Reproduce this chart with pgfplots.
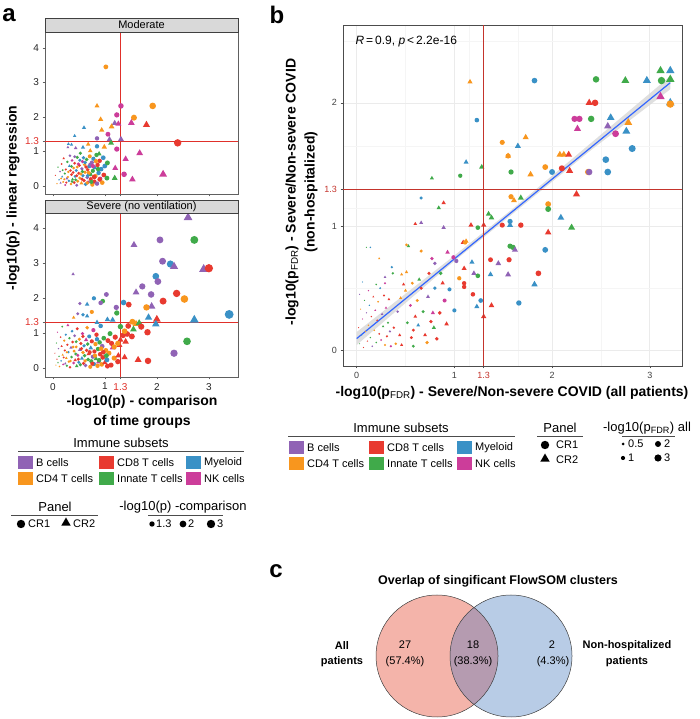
\documentclass[border=0pt]{standalone}
\usepackage{pgfplots}
\pgfplotsset{compat=1.18}
\usepackage{pgfplotstable}
\usepackage{fontspec}
\setmainfont{Liberation Sans}

\definecolor{cB}{HTML}{9063B5}
\definecolor{cO}{HTML}{F8961E}
\definecolor{cR}{HTML}{E83A30}
\definecolor{cG}{HTML}{40AA4A}
\definecolor{cL}{HTML}{3A91C6}
\definecolor{cM}{HTML}{CC3D9A}
\definecolor{redA}{HTML}{E0302A}
\definecolor{lineB}{HTML}{C4342C}
\definecolor{regblue}{HTML}{3366FF}
\definecolor{vennL}{HTML}{F4B4AA}
\definecolor{vennR}{HTML}{B8CCE6}
\definecolor{vennM}{HTML}{B59BB0}
\definecolor{stripg}{HTML}{D9D9D9}
\definecolor{gridmaj}{HTML}{EBEBEB}
\definecolor{gridmin}{HTML}{F5F5F5}

\pgfdeclareplotmark{dot}{\pgfpathcircle{\pgfpointorigin}{\pgfplotmarksize}\pgfusepathqfill}
\pgfdeclareplotmark{tri}{%
  \pgfpathmoveto{\pgfpointpolar{90}{1.3\pgfplotmarksize}}%
  \pgfpathlineto{\pgfpointpolar{210}{1.3\pgfplotmarksize}}%
  \pgfpathlineto{\pgfpointpolar{330}{1.3\pgfplotmarksize}}%
  \pgfpathclose\pgfusepathqfill}

\pgfplotsset{
  cls/.style={scatter, only marks, point meta=explicit symbolic,
    scatter/classes={
      Bc={mark=dot,cB}, Bt={mark=tri,cB},
      Oc={mark=dot,cO}, Ot={mark=tri,cO},
      Rc={mark=dot,cR}, Rt={mark=tri,cR},
      Gc={mark=dot,cG}, Gt={mark=tri,cG},
      Lc={mark=dot,cL}, Lt={mark=tri,cL},
      Mc={mark=dot,cM}, Mt={mark=tri,cM}},
    visualization depends on={max(#1*sqrt(abs(\thisrow{x})),0.6) \as \ms},
    scatter/@pre marker code/.append style={/tikz/mark size=\ms, /tikz/fill opacity=0.72}},
  aax/.style={scale only axis, anchor=south west,
    axis line style={draw=gray!75!black, line width=0.6pt},
    tick align=outside, major tick length=2.5pt,
    xtick pos=bottom, ytick pos=left,
    tick style={draw=gray!75!black, line width=0.5pt},
    xtick={0,1,1.3,2,3}, ytick={0,1,1.3,2,3,4},
    yticklabels={0,1,\textcolor{redA}{1.3},2,3,4},
    tick label style={font=\fontsize{10}{12}\selectfont, text=black!85},
    /pgf/number format/assume math mode=true,
    xmin=-0.15, xmax=3.56},
}

% Panel a, Moderate
\pgfplotstableread{
x y c
0.05 0.31 Rc
0.08 0.07 Oc
0.10 0.55 Gc
0.12 0.18 Lc
0.14 0.42 Bc
0.15 0.09 Bt
0.17 0.64 Rc
0.18 0.27 Lt
0.20 0.12 Oc
0.21 0.80 Rt
0.23 0.36 Gc
0.24 0.03 Mc
0.25 0.48 Rc
0.27 0.22 Bt
0.28 0.70 Gc
0.30 0.41 Oc
0.31 0.15 Lc
0.32 0.58 Lt
0.33 0.88 Bc
0.35 0.06 Oc
0.36 0.33 Rc
0.37 0.74 Mc
0.38 0.19 Gt
0.40 0.52 Oc
0.41 0.10 Rc
0.42 0.66 Rc
0.43 0.28 Lc
0.45 0.45 Lc
0.46 0.02 Bc
0.47 0.83 Gc
0.48 0.14 Oc
0.50 0.37 Rc
0.51 0.60 Rc
0.52 0.23 Oc
0.53 0.95 Gc
0.55 0.08 Ot
0.56 0.50 Bc
0.57 0.71 Mc
0.58 0.30 Lc
0.60 0.16 Rc
0.61 0.62 Oc
0.62 0.40 Oc
0.63 0.05 Lc
0.65 0.77 Gc
0.66 0.25 Bc
0.67 0.47 Rc
0.68 0.11 Mc
0.70 0.57 Lc
0.71 0.86 Oc
0.72 0.34 Gc
0.73 0.20 Rc
0.75 0.68 Bc
0.76 0.04 Oc
0.77 0.44 Gc
0.78 0.79 Lc
0.80 0.13 Rc
0.81 0.53 Lt
0.82 0.29 Oc
0.84 0.90 Gc
0.85 0.07 Bc
0.86 0.61 Rc
0.88 0.38 Lc
0.90 0.73 Rc
0.91 0.21 Mc
0.93 0.49 Lc
0.95 0.10 Oc
0.97 0.82 Lc
0.98 0.32 Rc
1.00 0.58 Lc
0.22 0.20 Oc
0.34 0.45 Rc
0.44 0.18 Gc
0.54 0.35 Oc
0.64 0.55 Rc
0.74 0.12 Gc
0.59 0.82 Lc
0.49 0.64 Mc
0.39 0.39 Rc
0.29 0.26 Oc
0.19 0.46 Gc
0.69 0.38 Oc
0.79 0.27 Rc
0.87 0.49 Gc
0.66 0.09 Oc
0.56 0.20 Rc
0.46 0.30 Rc
0.36 0.57 Gc
0.26 0.10 Rc
0.16 0.22 Oc
0.62 0.68 Lc
0.72 0.62 Bc
0.83 0.72 Oc
0.52 0.75 Lc
0.42 0.85 Bc
0.57 0.42 Gc
0.67 0.30 Lc
0.77 0.58 Mc
0.47 0.55 Oc
0.37 0.13 Gc
0.44 1.10 Bt
0.58 1.12 Lt
0.72 1.02 Ot
0.30 1.22 Lt
0.29 1.12 Bt
0.36 1.20 Lt
1.02 3.45 Oc
0.85 2.32 Ot
1.31 2.32 Mc
1.92 2.32 Oc
1.56 1.98 Oc
1.23 2.06 Mc
1.19 1.82 Bt
1.26 1.80 Mt
0.92 1.93 Ot
0.60 1.69 Lt
0.94 1.62 Ot
1.13 1.72 Ot
1.51 1.83 Mt
1.80 1.77 Rt
2.40 1.25 Rc
1.06 1.50 Mc
0.85 1.38 Bc
0.42 1.45 Lt
1.09 1.35 Bt
1.31 1.35 Bt
0.68 1.21 Ot
0.85 1.15 Lc
1.12 1.25 Gt
0.99 1.13 Ot
1.23 1.07 Mc
0.89 0.93 Gt
1.67 0.95 Mt
1.40 0.78 Mt
1.05 0.67 Gc
1.20 0.52 Mt
2.12 0.34 Mt
1.37 0.34 Mc
1.53 0.19 Mt
1.04 0.23 Gc
1.19 0.23 Gt
0.90 0.19 Rc
0.80 0.26 Rc
}\tabA

% Panel a, Severe (no ventilation)
\pgfplotstableread{
x y c
0.04 0.42 Rc
0.06 0.08 Oc
0.07 0.71 Gc
0.08 0.25 Rt
0.09 1.02 Mc
0.10 0.15 Gt
0.11 0.55 Bc
0.12 0.33 Gc
0.13 0.04 Oc
0.15 0.88 Rc
0.16 0.20 Lc
0.17 0.62 Rt
0.18 1.18 Gc
0.19 0.37 Ot
0.20 0.10 Mc
0.22 0.78 Oc
0.23 0.50 Rc
0.24 0.12 Bt
0.25 0.95 Lc
0.26 0.28 Ot
0.27 0.06 Gc
0.28 0.66 Rc
0.29 1.22 Mt
0.30 0.45 Lc
0.31 0.18 Oc
0.32 0.85 Gc
0.33 0.02 Rc
0.35 0.58 Bt
0.36 0.31 Gc
0.37 1.05 Lc
0.38 0.74 Rc
0.40 0.14 Mc
0.41 0.48 Oc
0.42 0.92 Bc
0.43 0.22 Rt
0.45 0.60 Oc
0.46 0.05 Gt
0.47 1.12 Rc
0.48 0.36 Mc
0.50 0.16 Lc
0.51 0.82 Oc
0.52 0.52 Bt
0.53 0.09 Gc
0.54 0.70 Rc
0.56 0.27 Lt
0.57 0.98 Mc
0.58 0.44 Oc
0.59 0.13 Rc
0.60 0.63 Lc
0.61 0.35 Gc
0.63 0.07 Bc
0.64 0.80 Mt
0.65 0.50 Rc
0.66 1.15 Oc
0.68 0.24 Gc
0.69 0.40 Rt
0.70 0.90 Lc
0.72 0.03 Oc
0.73 0.57 Lt
0.74 0.19 Gc
0.75 0.76 Rc
0.77 0.32 Bc
0.78 1.08 Mc
0.79 0.11 Lc
0.80 0.47 Rc
0.82 0.68 Oc
0.83 0.26 Gt
0.84 0.95 Rc
0.86 0.06 Oc
0.87 0.54 Gc
0.88 0.17 Mt
0.90 0.73 Gc
0.91 0.39 Rc
0.92 1.20 Lc
0.94 0.10 Oc
0.95 0.62 Bc
0.96 0.30 Rc
0.98 0.85 Gc
1.00 0.15 Rt
1.02 0.50 Oc
1.04 0.23 Lc
1.06 0.78 Rc
1.08 0.42 Oc
1.10 0.98 Gc
1.12 0.08 Rc
1.15 0.58 Mt
1.18 0.28 Oc
1.20 0.88 Rc
1.25 0.18 Rc
1.28 0.65 Rt
0.21 0.30 Rc
0.34 0.20 Oc
0.44 0.40 Gc
0.55 0.55 Rc
0.62 0.20 Oc
0.71 0.45 Rc
0.81 0.35 Oc
0.89 0.22 Gc
0.97 0.45 Rc
0.49 0.25 Rc
0.39 0.60 Oc
0.67 0.68 Gc
0.76 0.12 Rc
0.85 0.82 Lc
0.93 0.55 Oc
1.03 0.35 Gc
1.13 0.70 Rc
0.58 0.90 Rc
0.45 0.75 Gc
0.27 0.45 Oc
2.60 4.30 Bt
2.72 3.66 Gc
2.06 3.66 Bc
1.56 3.52 Bt
2.11 3.05 Bc
2.26 2.97 Lc
2.33 2.90 Bt
2.90 2.82 Bt
3.00 2.85 Rc
1.98 2.62 Lc
2.02 2.47 Bc
0.39 2.68 Bt
1.72 2.33 Bc
1.60 2.16 Bt
1.89 2.10 Bc
2.38 2.13 Rc
2.53 1.97 Oc
2.12 1.91 Rc
1.36 1.87 Lc
1.46 1.81 Rc
3.39 1.53 Lc
2.72 1.37 Lt
1.90 1.76 Bt
1.80 1.73 Oc
1.03 2.10 Bc
0.96 1.91 Gc
0.79 1.99 Lc
0.92 1.86 Bc
0.52 1.84 Bc
0.66 1.82 Lt
1.22 1.73 Bc
1.23 1.57 Gc
1.05 1.38 Lt
1.15 1.37 Lt
1.84 1.44 Lt
2.00 1.39 Rt
1.98 1.25 Lt
1.82 1.02 Rc
2.58 0.76 Gc
2.33 0.42 Bc
1.64 0.23 Rt
1.83 0.20 Rc
1.38 0.30 Rt
1.26 0.35 Rt
1.05 0.05 Rc
1.35 0.93 Rc
1.43 0.97 Rc
1.52 0.90 Rc
1.30 0.80 Rt
1.40 0.75 Rt
1.25 0.70 Oc
1.18 0.60 Oc
1.60 1.26 Ot
1.66 1.28 Gt
1.53 1.32 Oc
1.45 1.20 Rc
1.70 1.18 Rc
1.30 1.18 Gc
1.38 1.05 Oc
1.55 1.10 Gt
0.40 1.44 Ot
0.66 1.48 Lt
0.58 1.52 Lc
0.48 1.55 Bc
0.75 1.60 Oc
0.85 1.30 Lt
}\tabB

% Panel b
\pgfplotstableread{
x y c
0.02 0.18 Rc
0.03 0.05 Gc
0.04 0.33 Oc
0.05 0.12 Lc
0.03 0.45 Bc
0.06 0.25 Mc
0.07 0.02 Rc
0.08 0.40 Gt
0.09 0.15 Oc
0.10 0.30 Bc
0.11 0.07 Rt
0.12 0.48 Mc
0.12 0.20 Oc
0.13 0.36 Lt
0.14 0.10 Gc
0.15 0.27 Rc
0.16 0.03 Bc
0.17 0.43 Rt
0.18 0.16 Oc
0.19 0.32 Mt
0.20 0.06 Gc
0.21 0.24 Rc
0.22 0.39 Oc
0.23 0.13 Rc
0.24 0.50 Lc
0.25 0.08 Mc
0.26 0.29 Bt
0.27 0.19 Gt
0.28 0.44 Rc
0.29 0.04 Oc
0.30 0.34 Mt
0.31 0.11 Rc
0.32 0.22 Gc
0.33 0.41 Rt
0.34 0.15 Bc
0.35 0.03 Mc
0.10 0.83 Gc
0.14 0.83 Lc
0.23 0.74 Ot
0.36 0.67 Lc
0.37 0.62 Gc
0.29 0.59 Bt
0.29 0.54 Mc
0.20 0.53 Gc
0.06 0.55 Lc
0.38 0.18 Rc
0.40 0.05 Oc
0.42 0.31 Bc
0.44 0.12 Rt
0.45 0.42 Ot
0.46 0.04 Rt
0.46 0.61 Ot
0.48 0.53 Rt
0.50 0.48 Ot
0.51 0.63 Ot
0.51 0.85 Oc
0.52 0.22 Gc
0.53 0.84 Gt
0.55 0.36 Mc
0.56 0.10 Rc
0.57 0.54 Oc
0.58 0.16 Rc
0.58 0.03 Gc
0.60 0.27 Rt
0.60 1.02 Rt
0.62 0.40 Oc
0.63 0.20 Lt
0.64 0.57 Gt
0.66 0.50 Rc
0.66 0.80 Oc
0.66 1.03 Bt
0.66 1.23 Lc
0.68 0.31 Gc
0.70 0.12 Rt
0.72 0.06 Oc
0.73 0.43 Bt
0.74 0.62 Rc
0.76 0.23 Rc
0.77 0.74 Mc
0.77 1.39 Gt
0.78 0.30 Mt
0.79 0.18 Gt
0.80 0.70 Bc
0.80 0.50 Lc
0.82 0.09 Rc
0.84 1.15 Gt
0.85 0.30 Rc
0.86 0.62 Gc
0.88 0.54 Rt
0.89 1.19 Rt
0.89 0.99 Bt
0.90 0.40 Mc
0.92 0.21 Rt
0.93 0.79 Mt
0.95 0.49 Lc
0.99 0.75 Mc
1.02 0.72 Bc
1.05 0.58 Oc
1.00 0.32 Lc
1.16 2.17 Ot
1.82 2.18 Lc
2.45 2.19 Gc
2.75 2.18 Gt
2.97 2.18 Lt
3.11 2.26 Gt
3.21 2.26 Lt
3.12 2.18 Gc
3.21 2.19 Gt
3.11 2.05 Mt
3.21 2.00 Lt
3.21 1.99 Oc
2.38 2.00 Rt
2.44 2.00 Rc
1.23 1.86 Lc
2.23 1.87 Mc
2.28 1.87 Mc
2.26 1.79 Mt
2.40 1.87 Gc
2.60 1.88 Lt
2.57 1.81 Bt
2.78 1.84 Ot
2.65 1.75 Mc
2.76 1.77 Lt
2.82 1.63 Lc
1.49 1.68 Oc
1.73 1.72 Ot
1.65 1.65 Lt
1.55 1.57 Ot
1.55 1.57 Oc
2.08 1.58 Ot
2.12 1.58 Ot
2.17 1.58 Rt
2.55 1.54 Lc
1.93 1.48 Oc
2.10 1.47 Rc
2.00 1.44 Lc
2.18 1.45 Rt
2.37 1.44 Oc
2.38 1.44 Bc
2.57 1.44 Lc
1.58 1.44 Gc
1.78 1.42 Ot
1.12 1.52 Lt
1.28 1.48 Gt
1.06 1.41 Gc
2.25 1.26 Rt
1.58 1.24 Oc
1.61 1.21 Ot
1.68 1.23 Gt
1.96 1.18 Oc
1.96 1.14 Gc
1.35 1.10 Gt
2.09 1.07 Lt
1.38 1.07 Gt
1.17 1.01 Rt
1.30 1.01 Rt
1.24 0.99 Gc
1.49 1.01 Rc
1.68 1.01 Rc
1.57 1.04 Lc
1.57 1.01 Lt
2.20 0.99 Gt
1.96 0.95 Rt
1.09 0.87 Rt
1.12 0.88 Ot
1.11 0.87 Oc
1.57 0.84 Gc
1.60 0.83 Gc
1.62 0.81 Bt
1.93 0.81 Lc
1.37 0.73 Rc
1.45 0.70 Bt
1.56 0.73 Rc
1.18 0.71 Lt
1.10 0.66 Rt
1.20 0.62 Bt
1.24 0.60 Gc
1.37 0.61 Lt
1.55 0.61 Bt
1.86 0.62 Rc
1.82 0.53 Lt
1.10 0.54 Rc
1.10 0.51 Rc
1.19 0.45 Rc
1.27 0.40 Lc
1.66 0.38 Lc
1.23 0.35 Lt
1.38 0.36 Rt
1.30 0.27 Rt
}\tabC

\begin{document}
\begin{tikzpicture}[x=1pt,y=1pt]
\useasboundingbox (0pt,0pt) rectangle (699pt,719pt);

% ---------- Panel a, top ----------
\begin{axis}[aax, at={(45pt,525pt)}, width=193pt, height=162pt,
  ymin=-0.23, ymax=4.46, xticklabels={}]
\addplot[redA, line width=0.7pt] coordinates {(1.3,-0.23) (1.3,4.46)};
\addplot[redA, line width=0.7pt] coordinates {(-0.15,1.3) (3.56,1.3)};
\addplot[cls=2.4] table[x=x, y=y, meta=c] {\tabA};
\end{axis}
\filldraw[fill=stripg, draw=gray!50!black, line width=0.5pt] (45pt,687pt) rectangle (238pt,701pt);
\node[font=\fontsize{11}{13}\selectfont] at (141.5pt,694pt) {Moderate};

% ---------- Panel a, bottom ----------
\begin{axis}[aax, at={(45pt,342pt)}, width=193pt, height=164pt,
  ymin=-0.26, ymax=4.43, xticklabels={0,1,\textcolor{redA}{1.3},2,3}]
\addplot[redA, line width=0.7pt] coordinates {(1.3,-0.26) (1.3,4.43)};
\addplot[redA, line width=0.7pt] coordinates {(-0.15,1.3) (3.56,1.3)};
\addplot[cls=2.4] table[x=x, y=y, meta=c] {\tabB};
\end{axis}
\filldraw[fill=stripg, draw=gray!50!black, line width=0.5pt] (45pt,506pt) rectangle (238pt,519pt);
\node[font=\fontsize{11}{13}\selectfont] at (141.5pt,512.5pt) {Severe (no ventilation)};

\node[rotate=90, font=\fontsize{14}{16}\selectfont\bfseries] at (13pt,521pt) {-log10(p) - linear regression};
\node[font=\fontsize{14}{16}\selectfont\bfseries] at (142pt,317pt) {-log10(p) - comparison};
\node[font=\fontsize{14}{16}\selectfont\bfseries] at (142pt,297pt) {of time groups};

% ---------- Panel b ----------
\begin{axis}[scale only axis, anchor=south west, at={(343pt,353pt)}, width=339pt, height=341pt,
  xmin=-0.14, xmax=3.33, ymin=-0.13, ymax=2.63,
  axis line style={draw=gray!60!black, line width=0.8pt},
  tick align=outside, major tick length=2.5pt, minor tick length=0pt,
  xtick pos=bottom, ytick pos=left,
  tick style={draw=gray!60!black, line width=0.5pt},
  xtick={0,1,2,3}, ytick={0,1,2},
  extra x ticks={1.3}, extra y ticks={1.3},
  extra tick style={grid=none, tick label style={text=lineB}},
  minor xtick={0.5,1.15,1.65,2.5}, minor ytick={0.5,1.15,1.65,2.5},
  grid=both, major grid style={draw=gridmaj, line width=0.6pt}, minor grid style={draw=gridmin, line width=0.4pt},
  tick label style={font=\fontsize{9}{11}\selectfont, text=black!75},
  /pgf/number format/assume math mode=true]
\addplot[fill=gray!30, draw=none, fill opacity=0.85] coordinates {(0,0.04) (1.0,0.72) (1.6,1.104) (2.4,1.618) (3.21,2.11) (3.21,2.216) (2.4,1.676) (1.6,1.144) (1.0,0.764) (0,0.145)} -- cycle;
\addplot[cls=2.1] table[x=x, y=y, meta=c] {\tabC};
\addplot[draw=regblue, line width=1.2pt] coordinates {(0,0.092) (3.21,2.163)};
\end{axis}
% overlay axis with the same frame, holding the 1.3 threshold lines
\begin{axis}[scale only axis, anchor=south west, at={(343pt,353pt)}, width=339pt, height=341pt,
  xmin=-0.14, xmax=3.33, ymin=-0.13, ymax=2.63, hide axis]
\addplot[draw={rgb,255:red,196;green,52;blue,44}, line width=1.0pt] coordinates {(1.3,-0.13) (1.3,2.63)};
\addplot[draw={rgb,255:red,196;green,52;blue,44}, line width=1.0pt] coordinates {(-0.14,1.3) (3.33,1.3)};
\end{axis}
\node[anchor=west, font=\fontsize{12}{14}\selectfont] at (352pt,677pt) {\textit{R}\,=\,0.9, \textit{p}\,<\,2.2e-16};
\node[rotate=90, align=center, font=\fontsize{14}{19}\selectfont\bfseries] at (301.5pt,527pt) {-log10(p\textsubscript{\mdseries FDR}) - Severe/Non-severe COVID\\(non-hospitalized)};
\node[font=\fontsize{14}{16}\selectfont\bfseries] at (512pt,326pt) {-log10(p\textsubscript{\mdseries FDR}) - Severe/Non-severe COVID (all patients)};

% ---------- panel letters ----------
\node[font=\fontsize{24}{26}\selectfont\bfseries] at (9pt,704pt) {a};
\node[font=\fontsize{24}{26}\selectfont\bfseries] at (277pt,704pt) {b};
\node[font=\fontsize{24}{26}\selectfont\bfseries] at (276pt,148pt) {c};

% ---------- legend panel a ----------
\begin{scope}[every node/.style={font=\fontsize{11}{13}\selectfont, inner sep=0pt}]
\node[font=\fontsize{13}{15}\selectfont] at (121pt,276pt) {Immune subsets};
\draw[gray!60!black, line width=0.7pt] (18pt,268pt) -- (244pt,268pt);
\fill[cB] (18pt,250pt) rectangle (33pt,263pt); \node[anchor=west] at (36pt,256.5pt) {B cells};
\fill[cO] (18pt,234pt) rectangle (33pt,247pt); \node[anchor=west] at (36pt,240.5pt) {CD4 T cells};
\fill[cR] (99pt,250pt) rectangle (114pt,263pt); \node[anchor=west] at (117pt,256.5pt) {CD8 T cells};
\fill[cG] (99pt,234pt) rectangle (114pt,247pt); \node[anchor=west] at (117pt,240.5pt) {Innate T cells};
\fill[cL] (186pt,250pt) rectangle (201pt,263pt); \node[anchor=west] at (204pt,256.5pt) {Myeloid};
\fill[cM] (186pt,234pt) rectangle (201pt,247pt); \node[anchor=west] at (204pt,240.5pt) {NK cells};
\node[font=\fontsize{13}{15}\selectfont] at (55pt,212pt) {Panel};
\draw[gray!60!black, line width=0.7pt] (11pt,204pt) -- (98pt,204pt);
\fill (21pt,195pt) circle (4.2pt); \node[anchor=west] at (28pt,195pt) {CR1};
\fill[shift={(66pt,196pt)}] (90:5.5pt) -- (210:5.5pt) -- (330:5.5pt) -- cycle; \node[anchor=west] at (73pt,195pt) {CR2};
\node[font=\fontsize{13}{15}\selectfont] at (183pt,212pt) {-log10(p) -comparison};
\draw[gray!60!black, line width=0.7pt] (148pt,204pt) -- (223pt,204pt);
\fill (152pt,195pt) circle (2.7pt); \node[anchor=west] at (156pt,195pt) {1.3};
\fill (183pt,195pt) circle (3.4pt); \node[anchor=west] at (188pt,195pt) {2};
\fill (211pt,195pt) circle (4.2pt); \node[anchor=west] at (217pt,195pt) {3};
\end{scope}

% ---------- legend panel b ----------
\begin{scope}[every node/.style={font=\fontsize{11}{13}\selectfont, inner sep=0pt}]
\node[font=\fontsize{13}{15}\selectfont] at (401pt,291pt) {Immune subsets};
\draw[gray!60!black, line width=0.7pt] (288pt,283pt) -- (515pt,283pt);
\fill[cB] (289pt,265pt) rectangle (304pt,278pt); \node[anchor=west] at (307pt,271.5pt) {B cells};
\fill[cO] (289pt,249pt) rectangle (304pt,262pt); \node[anchor=west] at (307pt,255.5pt) {CD4 T cells};
\fill[cR] (369pt,265pt) rectangle (384pt,278pt); \node[anchor=west] at (387pt,271.5pt) {CD8 T cells};
\fill[cG] (369pt,249pt) rectangle (384pt,262pt); \node[anchor=west] at (387pt,255.5pt) {Innate T cells};
\fill[cL] (457pt,265pt) rectangle (472pt,278pt); \node[anchor=west] at (475pt,271.5pt) {Myeloid};
\fill[cM] (457pt,249pt) rectangle (472pt,262pt); \node[anchor=west] at (475pt,255.5pt) {NK cells};
\node[font=\fontsize{13}{15}\selectfont] at (560pt,291pt) {Panel};
\draw[gray!60!black, line width=0.7pt] (537pt,283pt) -- (583pt,283pt);
\fill (545pt,274pt) circle (4.2pt); \node[anchor=west] at (556pt,274pt) {CR1};
\fill[shift={(545pt,260pt)}] (90:5.5pt) -- (210:5.5pt) -- (330:5.5pt) -- cycle; \node[anchor=west] at (556pt,259pt) {CR2};
\node[font=\fontsize{13}{15}\selectfont] at (647pt,291pt) {-log10(p\textsubscript{FDR}) all};
\draw[gray!60!black, line width=0.7pt] (622pt,283pt) -- (675pt,283pt);
\fill (623pt,275pt) circle (1.5pt); \node[anchor=west] at (628pt,275pt) {0.5};
\fill (658pt,275pt) circle (3.0pt); \node[anchor=west] at (664pt,275pt) {2};
\fill (623pt,261pt) circle (2.1pt); \node[anchor=west] at (628pt,261pt) {1};
\fill (658pt,261pt) circle (3.6pt); \node[anchor=west] at (664pt,261pt) {3};
\end{scope}

% ---------- Panel c: Venn ----------
\begin{axis}[scale only axis, anchor=south west, at={(0pt,0pt)}, width=699pt, height=719pt,
  xmin=0, xmax=699, ymin=0, ymax=719, hide axis, clip=false]
\fill[vennL] (axis cs:437,63) circle[radius=61];
\fill[vennR] (axis cs:511,63) circle[radius=61];
\begin{scope}
\clip (axis cs:437,63) circle[radius=61];
\fill[vennM] (axis cs:511,63) circle[radius=61];
\end{scope}
\draw[black!75, line width=0.5pt] (axis cs:437,63) circle[radius=61];
\draw[black!75, line width=0.5pt] (axis cs:511,63) circle[radius=61];
\end{axis}
\node[font=\fontsize{12.5}{15}\selectfont\bfseries] at (498pt,138pt) {Overlap of singificant FlowSOM clusters};
\begin{scope}[every node/.style={font=\fontsize{11}{13}\selectfont, align=center}]
\node at (405pt,74pt) {27}; \node at (405pt,57pt) {(57.4\%)};
\node at (473pt,74pt) {18}; \node at (473pt,57pt) {(38.3\%)};
\node at (552pt,74pt) {2}; \node at (553pt,57pt) {(4.3\%)};
\node[font=\fontsize{11}{13}\selectfont\bfseries] at (342pt,73pt) {All};
\node[font=\fontsize{11}{13}\selectfont\bfseries] at (342pt,57pt) {patients};
\node[font=\fontsize{11}{13}\selectfont\bfseries] at (627pt,73pt) {Non-hospitalized};
\node[font=\fontsize{11}{13}\selectfont\bfseries] at (627pt,57pt) {patients};
\end{scope}
\end{tikzpicture}
\end{document}
